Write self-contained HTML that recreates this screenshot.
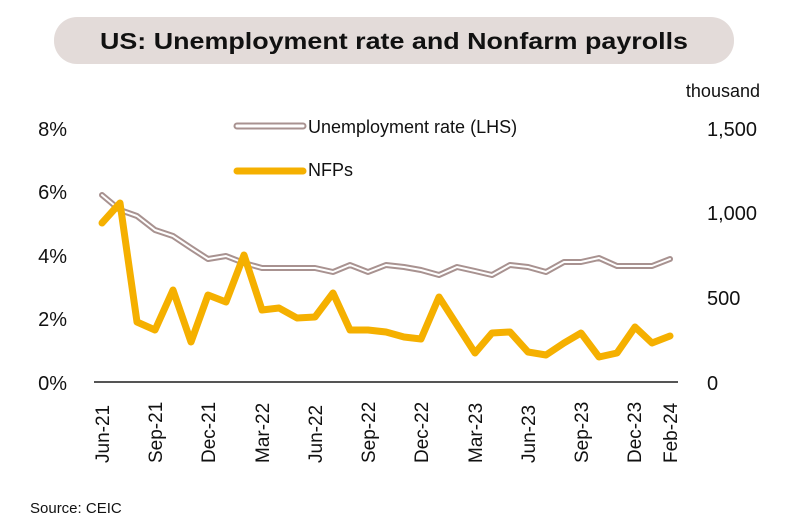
<!DOCTYPE html>
<html><head><meta charset="utf-8"><style>
body{margin:0;background:#fff;}
svg{display:block;}
text{font-family:"Liberation Sans",Arial,sans-serif;}
</style></head><body>
<svg width="800" height="532" viewBox="0 0 800 532" xmlns="http://www.w3.org/2000/svg">
<rect x="54" y="17" width="680" height="47" rx="23" fill="#e3dbd9"/>
<text x="394" y="49" text-anchor="middle" font-size="23" font-weight="700" fill="#111" style="font-family:'Liberation Sans',Arial,sans-serif" textLength="588" lengthAdjust="spacingAndGlyphs">US: Unemployment rate and Nonfarm payrolls</text>
<text x="760" y="97" text-anchor="end" font-size="18" fill="#111">thousand</text>
<g font-size="20" fill="#111">
<text x="67" y="136" text-anchor="end">8%</text>
<text x="67" y="199" text-anchor="end">6%</text>
<text x="67" y="263" text-anchor="end">4%</text>
<text x="67" y="326" text-anchor="end">2%</text>
<text x="67" y="390" text-anchor="end">0%</text>
<text x="707" y="136">1,500</text>
<text x="707" y="220">1,000</text>
<text x="707" y="305">500</text>
<text x="707" y="390">0</text>
</g>
<line x1="94" y1="382" x2="678" y2="382" stroke="#555" stroke-width="2"/>
<g font-size="19" fill="#111">
<text transform="translate(109,463) rotate(-90)">Jun-21</text>
<text transform="translate(162,463) rotate(-90)">Sep-21</text>
<text transform="translate(215,463) rotate(-90)">Dec-21</text>
<text transform="translate(269,463) rotate(-90)">Mar-22</text>
<text transform="translate(322,463) rotate(-90)">Jun-22</text>
<text transform="translate(375,463) rotate(-90)">Sep-22</text>
<text transform="translate(428,463) rotate(-90)">Dec-22</text>
<text transform="translate(482,463) rotate(-90)">Mar-23</text>
<text transform="translate(535,463) rotate(-90)">Jun-23</text>
<text transform="translate(588,463) rotate(-90)">Sep-23</text>
<text transform="translate(641,463) rotate(-90)">Dec-23</text>
<text transform="translate(677,463) rotate(-90)">Feb-24</text>
</g>
<text x="30" y="513" font-size="15" fill="#111">Source: CEIC</text>
<line x1="237" y1="126" x2="303" y2="126" stroke="#a89290" stroke-width="7" stroke-linecap="round"/>
<line x1="237" y1="126" x2="303" y2="126" stroke="#fff" stroke-width="3" stroke-linecap="round"/>
<text x="308" y="133" font-size="18" fill="#111">Unemployment rate (LHS)</text>
<line x1="237" y1="171" x2="303" y2="171" stroke="#f5b000" stroke-width="7" stroke-linecap="round"/>
<text x="308" y="176" font-size="18" fill="#111">NFPs</text>
<g fill="none" stroke-linejoin="round" stroke-linecap="round">
<polyline stroke="#a89290" stroke-width="6" points="102,195 120,210 137,216 155,230 173,236 191,248 208,259 226,256 244,263 262,268 279,268 297,268 315,268 333,272 350,265 368,272 386,265 404,267 421,270 439,275 457,267 475,271 492,275 510,265 528,267 546,272 564,262 581,262 599,258 617,266 635,266 652,266 670,259"/>
<polyline stroke="#fff" stroke-width="2" points="102,195 120,210 137,216 155,230 173,236 191,248 208,259 226,256 244,263 262,268 279,268 297,268 315,268 333,272 350,265 368,272 386,265 404,267 421,270 439,275 457,267 475,271 492,275 510,265 528,267 546,272 564,262 581,262 599,258 617,266 635,266 652,266 670,259"/>
<polyline stroke="#f5b000" stroke-width="7" points="102,223 120,203 137,322 155,330 173,290 191,342 208,295 226,302 244,255 262,310 279,308 297,318 315,317 333,293 350,330 368,330 386,332 404,337 421,339 439,297 457,325 475,353 492,333 510,332 528,352 546,355 564,343 581,333 599,357 617,353 635,327 652,343 670,336"/>
</g>
</svg>
</body></html>
